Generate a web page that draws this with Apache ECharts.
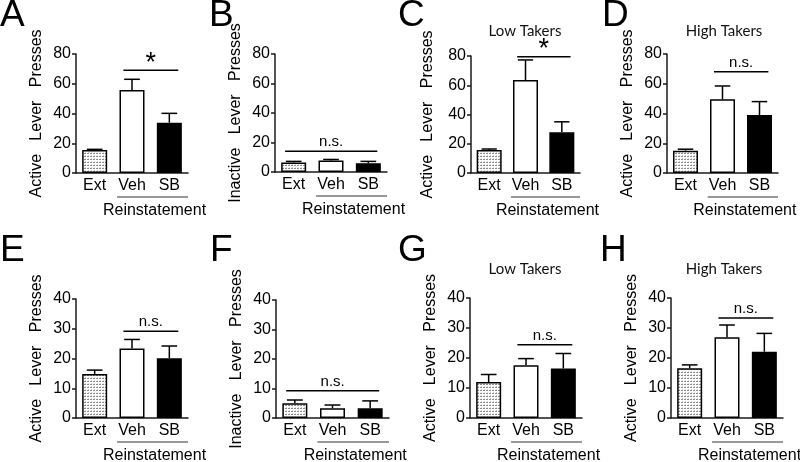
<!DOCTYPE html>
<html><head><meta charset="utf-8">
<script src="https://cdn.jsdelivr.net/npm/echarts@6/dist/echarts.min.js"></script>
<style>html,body{margin:0;padding:0;background:#fff}#c{width:800px;height:462px}</style>
</head><body><div id="c"></div>
<script>
// ---------------- data ----------------
const categories = ['Ext', 'Veh', 'SB'];
const panelLetters = ['A', 'B', 'C', 'D', 'E', 'F', 'G', 'H'];
const yTitles = [
  'Active   Lever   Presses', 'Inactive   Lever   Presses', 'Active   Lever   Presses', 'Active   Lever   Presses',
  'Active   Lever   Presses', 'Inactive   Lever   Presses', 'Active   Lever   Presses', 'Active   Lever   Presses'
];
const subtitles = ['', '', 'Low Takers', 'High Takers', '', '', 'Low Takers', 'High Takers'];
const groupLabel = 'Reinstatement';
const yMax = [80, 80, 80, 80, 40, 40, 40, 40];
const yStep = [20, 20, 20, 20, 10, 10, 10, 10];

const meansA = [15.5, 55.8, 33.8]; const semA = [0.4, 7.2, 6.3];
const meansB = [6.4, 7.8, 6.0];   const semB = [0.8, 0.7, 1.2];
const meansC = [15.7, 63.6, 27.8]; const semC = [0.7, 13.7, 7.2];
const meansD = [15.0, 49.5, 39.0]; const semD = [1.0, 9.0, 9.0];
const meansE = [14.8, 23.4, 20.1]; const semE = [1.3, 3.0, 4.1];
const meansF = [5.0, 3.3, 3.3];   const semF = [1.1, 1.1, 2.5];
const meansG = [12.0, 17.6, 16.5]; const semG = [2.5, 2.2, 5.0];
const meansH = [16.6, 26.9, 22.1]; const semH = [1.1, 4.1, 6.1];

const sigFrom = [1, 0, 1, 1, 1, 0, 1, 1];
const sigTo   = [2, 2, 2, 2, 2, 2, 2, 2];
const sigY    = [69, 14, 79.5, 68, 29.2, 9.2, 24.4, 33.3];
const sigText = ['*', 'n.s.', '*', 'n.s.', 'n.s.', 'n.s.', 'n.s.', 'n.s.'];

const means = [meansA, meansB, meansC, meansD, meansE, meansF, meansG, meansH];
const sems  = [semA, semB, semC, semD, semE, semF, semG, semH];

// ---------------- layout (px) ----------------
const gridBox = [
  {left: 76, top: 54, width: 112, height: 119},
  {left: 275, top: 54, width: 112, height: 118},
  {left: 471, top: 56, width: 109, height: 117},
  {left: 667, top: 54, width: 111, height: 119},
  {left: 76, top: 299, width: 112, height: 119},
  {left: 276, top: 300, width: 113, height: 118},
  {left: 470, top: 298, width: 112, height: 120},
  {left: 671, top: 298, width: 112, height: 120}
];
const nameGaps = [31, 31, 35, 31, 31, 31, 31, 31];
const letterPos = [[0, -3], [209, -3], [398, -3], [602, -3], [0, 232], [210, 232], [398, 232], [600, 232]];
const subtitlePos = [null, null, [525, 31], [724, 31], null, null, [525, 269], [724, 269]];

const FONT = '"Liberation Sans", Arial, sans-serif';

// stipple pattern for extinction bars
const pc = document.createElement('canvas');
pc.width = 3; pc.height = 3;
const pctx = pc.getContext('2d');
pctx.fillStyle = '#ffffff'; pctx.fillRect(0, 0, 3, 3);
pctx.fillStyle = '#8c8c8c'; pctx.fillRect(0, 0, 2, 1);
pctx.fillStyle = '#d4d4d4'; pctx.fillRect(1, 2, 1, 1);
const stipple = {image: pc, repeat: 'repeat'};
const barFill = [stipple, '#ffffff', '#000000'];

const grids = [], xAxes = [], yAxes = [], series = [], graphics = [];

for (let k = 0; k < 8; k++) {
  grids.push(Object.assign({outerBoundsMode: 'none', containLabel: false}, gridBox[k]));
  xAxes.push({
    type: 'category', gridIndex: k, data: categories,
    axisLine: {lineStyle: {color: '#1a1a1a', width: 1.5}},
    axisTick: {show: false},
    axisLabel: {color: '#000', fontSize: 16, fontFamily: FONT, margin: 5, interval: 0}
  });
  yAxes.push({
    type: 'value', gridIndex: k, min: 0, max: yMax[k], interval: yStep[k],
    name: yTitles[k], nameLocation: 'middle', nameGap: nameGaps[k], nameRotate: 90,
    nameTextStyle: {color: '#000', fontSize: 16, fontFamily: FONT},
    axisLine: {show: true, lineStyle: {color: '#1a1a1a', width: 1.5}},
    axisTick: {show: true, length: 4, lineStyle: {color: '#1a1a1a', width: 1.5}},
    axisLabel: {color: '#000', fontSize: 16, fontFamily: FONT, margin: 5},
    splitLine: {show: false}
  });
  series.push({
    type: 'bar', xAxisIndex: k, yAxisIndex: k, barWidth: 25,
    data: means[k].map((v, i) => ({value: v, itemStyle: {color: barFill[i]}})),
    itemStyle: {borderColor: '#000', borderWidth: 1.5},
    silent: true, animation: false
  });
  // error bars (upper only)
  series.push({
    type: 'custom', xAxisIndex: k, yAxisIndex: k, z: 5, animation: false, silent: true,
    encode: {x: 0, y: [1, 2]},
    data: means[k].map((v, i) => [i, v, v + sems[k][i]]),
    renderItem(params, api) {
      const x = api.value(0);
      const a = api.coord([x, api.value(1)]);
      const b = api.coord([x, api.value(2)]);
      const cap = api.size([1, 0])[0] * 0.21;
      const st = {stroke: '#000', lineWidth: 1.5};
      return {type: 'group', children: [
        {type: 'line', shape: {x1: a[0], y1: a[1], x2: b[0], y2: b[1]}, style: st},
        {type: 'line', shape: {x1: b[0] - cap, y1: b[1], x2: b[0] + cap, y2: b[1]}, style: st}
      ]};
    }
  });
  // significance bracket
  series.push({
    type: 'custom', xAxisIndex: k, yAxisIndex: k, z: 5, animation: false, silent: true,
    data: [[sigFrom[k], sigTo[k], sigY[k]]],
    encode: {x: [0, 1], y: 2},
    renderItem(params, api) {
      const band = api.size([1, 0])[0];
      const p1 = api.coord([api.value(0), api.value(2)]);
      const p2 = api.coord([api.value(1), api.value(2)]);
      const x1 = p1[0] - band * 0.23, x2 = p2[0] + band * 0.24;
      const isStar = sigText[k] === '*';
      return {type: 'group', children: [
        {type: 'line', shape: {x1: x1, y1: p1[1], x2: x2, y2: p1[1]}, style: {stroke: '#000', lineWidth: 1.5}},
        {type: 'text', x: (x1 + x2) / 2, y: p1[1] - (isStar ? 7 : 9),
         style: {text: sigText[k], fill: '#000', align: 'center', verticalAlign: 'middle',
                 font: (isStar ? '27px ' : '15px ') + FONT}}
      ]};
    }
  });
  // Reinstatement group bracket below axis
  series.push({
    type: 'custom', xAxisIndex: k, yAxisIndex: k, z: 5, animation: false, silent: true, clip: false,
    data: [[1, 2, 0]],
    encode: {x: [0, 1], y: 2},
    renderItem(params, api) {
      const band = api.size([1, 0])[0];
      const p1 = api.coord([api.value(0), api.value(2)]);
      const p2 = api.coord([api.value(1), api.value(2)]);
      const x1 = p1[0] - band * 0.4, x2 = p2[0] + band * 0.5;
      return {type: 'group', children: [
        {type: 'line', shape: {x1: x1, y1: p1[1] + 24, x2: x2, y2: p1[1] + 24}, style: {stroke: '#333', lineWidth: 1}},
        {type: 'text', x: (x1 + x2) / 2 + 2, y: p1[1] + 38,
         style: {text: groupLabel, fill: '#000', align: 'center', verticalAlign: 'middle', font: '16px ' + FONT}}
      ]};
    }
  });
  graphics.push({
    type: 'text', left: letterPos[k][0], top: letterPos[k][1],
    style: {text: panelLetters[k], fill: '#000', font: '37px ' + FONT}
  });
  if (subtitles[k]) {
    graphics.push({
      type: 'text', x: subtitlePos[k][0], y: subtitlePos[k][1],
      style: {text: subtitles[k], fill: '#111', align: 'center', verticalAlign: 'middle', font: '15px Lato, "Open Sans", sans-serif'}
    });
  }
}

const chart = echarts.init(document.getElementById('c'), null, {renderer: 'canvas'});
chart.setOption({
  animation: false,
  backgroundColor: '#ffffff',
  grid: grids, xAxis: xAxes, yAxis: yAxes, series: series, graphic: graphics
});
</script>
</body></html>
